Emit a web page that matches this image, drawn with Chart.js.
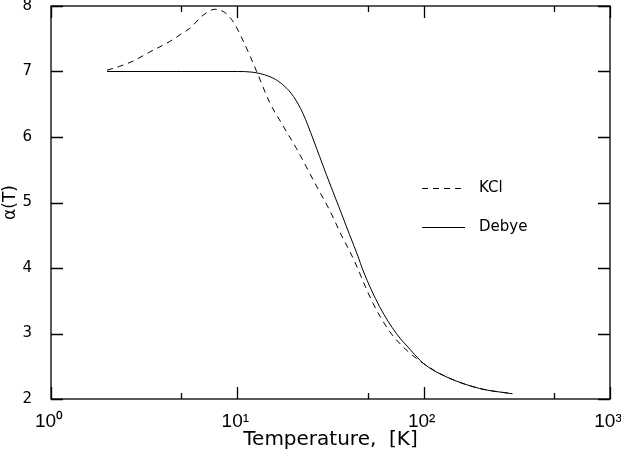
<!DOCTYPE html>
<html>
<head>
<meta charset="utf-8">
<script src="https://cdn.jsdelivr.net/npm/chart.js@4"></script>
<style>
  html, body { margin: 0; padding: 0; background: #fff; }
  #chart { display: block; }
</style>
</head>
<body>
<canvas id="chart" width="621" height="453"></canvas>
<script>
// Datos
const kclT = [2, 2.34, 2.76, 3.4, 4.35, 4.92, 5.56, 6.56, 7.57, 8.57, 9.5, 10.7, 12.7, 14.9, 17.6, 20.8, 26.6, 31.3, 36.2, 41.8, 53.5, 65.7, 80, 100, 132, 200, 300];
const kclAlpha = [7.02, 7.08, 7.16, 7.30, 7.46, 7.56, 7.66, 7.86, 7.95, 7.90, 7.76, 7.48, 7.00, 6.53, 6.17, 5.82, 5.25, 4.88, 4.50, 4.15, 3.46, 3.03, 2.76, 2.54, 2.34, 2.16, 2.08];

const debyeT = [2, 5, 10, 12, 14, 16, 18, 20, 22.5, 25.5, 30, 35, 40, 44.4, 47.3, 58, 71.4, 85, 100, 132, 200, 300];
const debyeAlpha = [7.0, 7.0, 7.0, 6.99, 6.95, 6.88, 6.77, 6.62, 6.36, 5.97, 5.43, 4.94, 4.51, 4.18, 3.96, 3.41, 3.00, 2.75, 2.54, 2.34, 2.16, 2.08];

// Marcas de los ejes
const xTicks = [1, 5, 10, 50, 100, 500, 1000];
const xTickLabels = { 1: '10\u2070', 10: '10\u00b9', 100: '10\u00b2', 1000: '10\u00b3' };
const yTicks = [2, 3, 4, 5, 6, 7, 8];

const FONT = '"DejaVu Sans", sans-serif';
const NARROW = '"Liberation Sans Narrow", "Liberation Sans", sans-serif';

function toPoints(xs, ys) {
    return xs.map((x, i) => ({ x: x, y: ys[i] }));
}

// Marco y marcas hacia adentro
const framePlugin = {
    id: 'frame',
    afterDatasetsDraw(chart) {
        const { ctx, chartArea: a, scales } = chart;
        ctx.save();
        ctx.strokeStyle = '#000';
        ctx.lineWidth = 1.3;
        ctx.strokeRect(a.left, a.top, a.right - a.left, a.bottom - a.top);
        ctx.beginPath();
        xTicks.forEach(v => {
            const px = Math.round(scales.x.getPixelForValue(v)) + 0.5;
            const len = xTickLabels[v] ? 12 : 6;
            ctx.moveTo(px, a.bottom); ctx.lineTo(px, a.bottom - len);
            ctx.moveTo(px, a.top); ctx.lineTo(px, a.top + len);
        });
        yTicks.forEach(v => {
            const py = Math.round(scales.y.getPixelForValue(v)) + 0.5;
            ctx.moveTo(a.left, py); ctx.lineTo(a.left + 12, py);
            ctx.moveTo(a.right, py); ctx.lineTo(a.right - 12, py);
        });
        ctx.stroke();

        // Leyenda dentro del area
        const items = chart.data.datasets;
        const yRows = [188, 227];
        ctx.font = '15px ' + FONT;
        ctx.fillStyle = '#000';
        ctx.textBaseline = 'middle';
        items.forEach((ds, i) => {
            ctx.beginPath();
            ctx.lineWidth = 1;
            ctx.setLineDash(ds.borderDash || []);
            ctx.moveTo(422, yRows[i] + 0.5);
            ctx.lineTo(465, yRows[i] + 0.5);
            ctx.stroke();
            ctx.setLineDash([]);
            ctx.fillText(ds.label, 479, yRows[i]);
        });
        ctx.restore();
    }
};

new Chart(document.getElementById('chart'), {
    type: 'line',
    data: {
        datasets: [
            {
                label: 'KCl',
                data: toPoints(kclT, kclAlpha),
                borderColor: '#000',
                borderWidth: 1,
                borderDash: [6, 5],
                pointRadius: 0,
                cubicInterpolationMode: 'monotone',
                fill: false
            },
            {
                label: 'Debye',
                data: toPoints(debyeT, debyeAlpha),
                borderColor: '#000',
                borderWidth: 1,
                pointRadius: 0,
                cubicInterpolationMode: 'monotone',
                fill: false
            }
        ]
    },
    options: {
        responsive: false,
        animation: false,
        layout: { padding: { top: 6, right: 11, left: 0, bottom: 0 } },
        plugins: {
            legend: { display: false },
            tooltip: { enabled: false }
        },
        scales: {
            x: {
                type: 'logarithmic',
                min: 1,
                max: 1000,
                afterBuildTicks: s => { s.ticks = xTicks.map(v => ({ value: v })); },
                afterFit: s => { s.height = 54; s.paddingLeft = 0; s.paddingRight = 0; },
                grid: { display: false, drawTicks: false },
                border: { display: false },
                ticks: {
                    autoSkip: false,
                    maxRotation: 0,
                    padding: 11,
                    labelOffset: -2,
                    color: '#000',
                    font: { family: NARROW, size: 19 },
                    callback: v => xTickLabels[v] || ''
                },
                title: {
                    display: true,
                    text: 'Temperature,  [K]',
                    color: '#000',
                    font: { family: FONT, size: 20 },
                    padding: { top: 0, bottom: 1 }
                }
            },
            y: {
                type: 'linear',
                min: 2,
                max: 8,
                afterBuildTicks: s => { s.ticks = yTicks.map(v => ({ value: v })); },
                afterFit: s => { s.width = 51; s.paddingTop = 0; s.paddingBottom = 0; },
                grid: { display: false, drawTicks: false },
                border: { display: false },
                ticks: {
                    padding: 19,
                    color: '#000',
                    font: { family: FONT, size: 15 }
                },
                title: {
                    display: true,
                    text: '\u03b1(T)',
                    color: '#000',
                    font: { family: FONT, size: 17 },
                    padding: 0
                }
            }
        }
    },
    plugins: [framePlugin]
});
</script>
</body>
</html>
